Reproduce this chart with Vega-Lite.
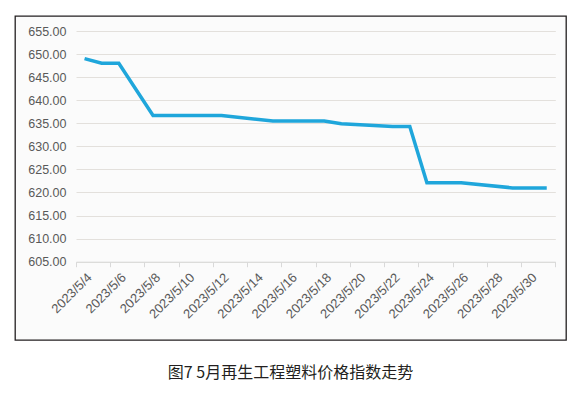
{
  "$schema": "https://vega.github.io/schema/vega-lite/v6.json",
  "width": 551,
  "height": 324,
  "autosize": "none",
  "padding": {"left": 15, "top": 16, "right": 18, "bottom": 58},
  "background": "white",
  "config": {
    "view": {"fill": "#fbfbfb", "stroke": "#231f20", "strokeWidth": 1.3},
    "font": "Liberation Sans"
  },
  "title": {
    "text": "图7 5月再生工程塑料价格指数走势",
    "orient": "bottom",
    "anchor": "middle",
    "frame": "group",
    "font": "Noto Sans CJK SC",
    "fontSize": 16,
    "fontWeight": "normal",
    "color": "#231f20",
    "offset": 25
  },
  "data": {
    "values": [
      {"date": "2023/05/04", "value": 649.0},
      {"date": "2023/05/05", "value": 648.0},
      {"date": "2023/05/06", "value": 648.0},
      {"date": "2023/05/08", "value": 636.7},
      {"date": "2023/05/09", "value": 636.7},
      {"date": "2023/05/10", "value": 636.7},
      {"date": "2023/05/11", "value": 636.7},
      {"date": "2023/05/12", "value": 636.7},
      {"date": "2023/05/15", "value": 635.5},
      {"date": "2023/05/16", "value": 635.5},
      {"date": "2023/05/17", "value": 635.5},
      {"date": "2023/05/18", "value": 635.5},
      {"date": "2023/05/19", "value": 634.9},
      {"date": "2023/05/22", "value": 634.3},
      {"date": "2023/05/23", "value": 634.3},
      {"date": "2023/05/24", "value": 622.1},
      {"date": "2023/05/25", "value": 622.1},
      {"date": "2023/05/26", "value": 622.1},
      {"date": "2023/05/29", "value": 621.0},
      {"date": "2023/05/30", "value": 621.0},
      {"date": "2023/05/31", "value": 621.0}
    ]
  },
  "mark": {"type": "line", "color": "#1fa6db", "strokeWidth": 3.5, "strokeJoin": "miter"},
  "encoding": {
    "x": {
      "field": "date",
      "type": "temporal",
      "timeUnit": "yearmonthdate",
      "bandPosition": 0.5,
      "scale": {
        "domain": [{"year": 2023, "month": 5, "date": 4}, {"year": 2023, "month": 6, "date": 1}],
        "range": [61, 540.3],
        "nice": false
      },
      "axis": {
        "title": null,
        "orient": "bottom",
        "offset": -78.3,
        "values": [
          {"year": 2023, "month": 5, "date": 4},
          {"year": 2023, "month": 5, "date": 6},
          {"year": 2023, "month": 5, "date": 8},
          {"year": 2023, "month": 5, "date": 10},
          {"year": 2023, "month": 5, "date": 12},
          {"year": 2023, "month": 5, "date": 14},
          {"year": 2023, "month": 5, "date": 16},
          {"year": 2023, "month": 5, "date": 18},
          {"year": 2023, "month": 5, "date": 20},
          {"year": 2023, "month": 5, "date": 22},
          {"year": 2023, "month": 5, "date": 24},
          {"year": 2023, "month": 5, "date": 26},
          {"year": 2023, "month": 5, "date": 28},
          {"year": 2023, "month": 5, "date": 30},
          {"year": 2023, "month": 6, "date": 1}
        ],
        "format": "%Y/%-m/%-d",
        "labelExpr": "month(datum.value) == 4 ? datum.label : ''",
        "labelAngle": -45,
        "labelOffset": 9,
        "labelPadding": 4,
        "labelFontSize": 13,
        "labelColor": "#595959",
        "labelOverlap": false,
        "labelFlush": false,
        "grid": false,
        "domainColor": "#d9d9d9",
        "domainWidth": 1,
        "tickColor": "#d9d9d9",
        "tickSize": 5,
        "tickWidth": 1
      }
    },
    "y": {
      "field": "value",
      "type": "quantitative",
      "scale": {"domain": [605, 655], "range": [245.7, 15], "nice": false, "zero": false},
      "axis": {
        "title": null,
        "offset": -61,
        "values": [605, 610, 615, 620, 625, 630, 635, 640, 645, 650, 655],
        "format": ".2f",
        "domain": false,
        "ticks": false,
        "labelPadding": 10,
        "labelFontSize": 12.5,
        "labelColor": "#595959",
        "gridColor": "#e3e0dc",
        "gridWidth": 1
      }
    }
  }
}
